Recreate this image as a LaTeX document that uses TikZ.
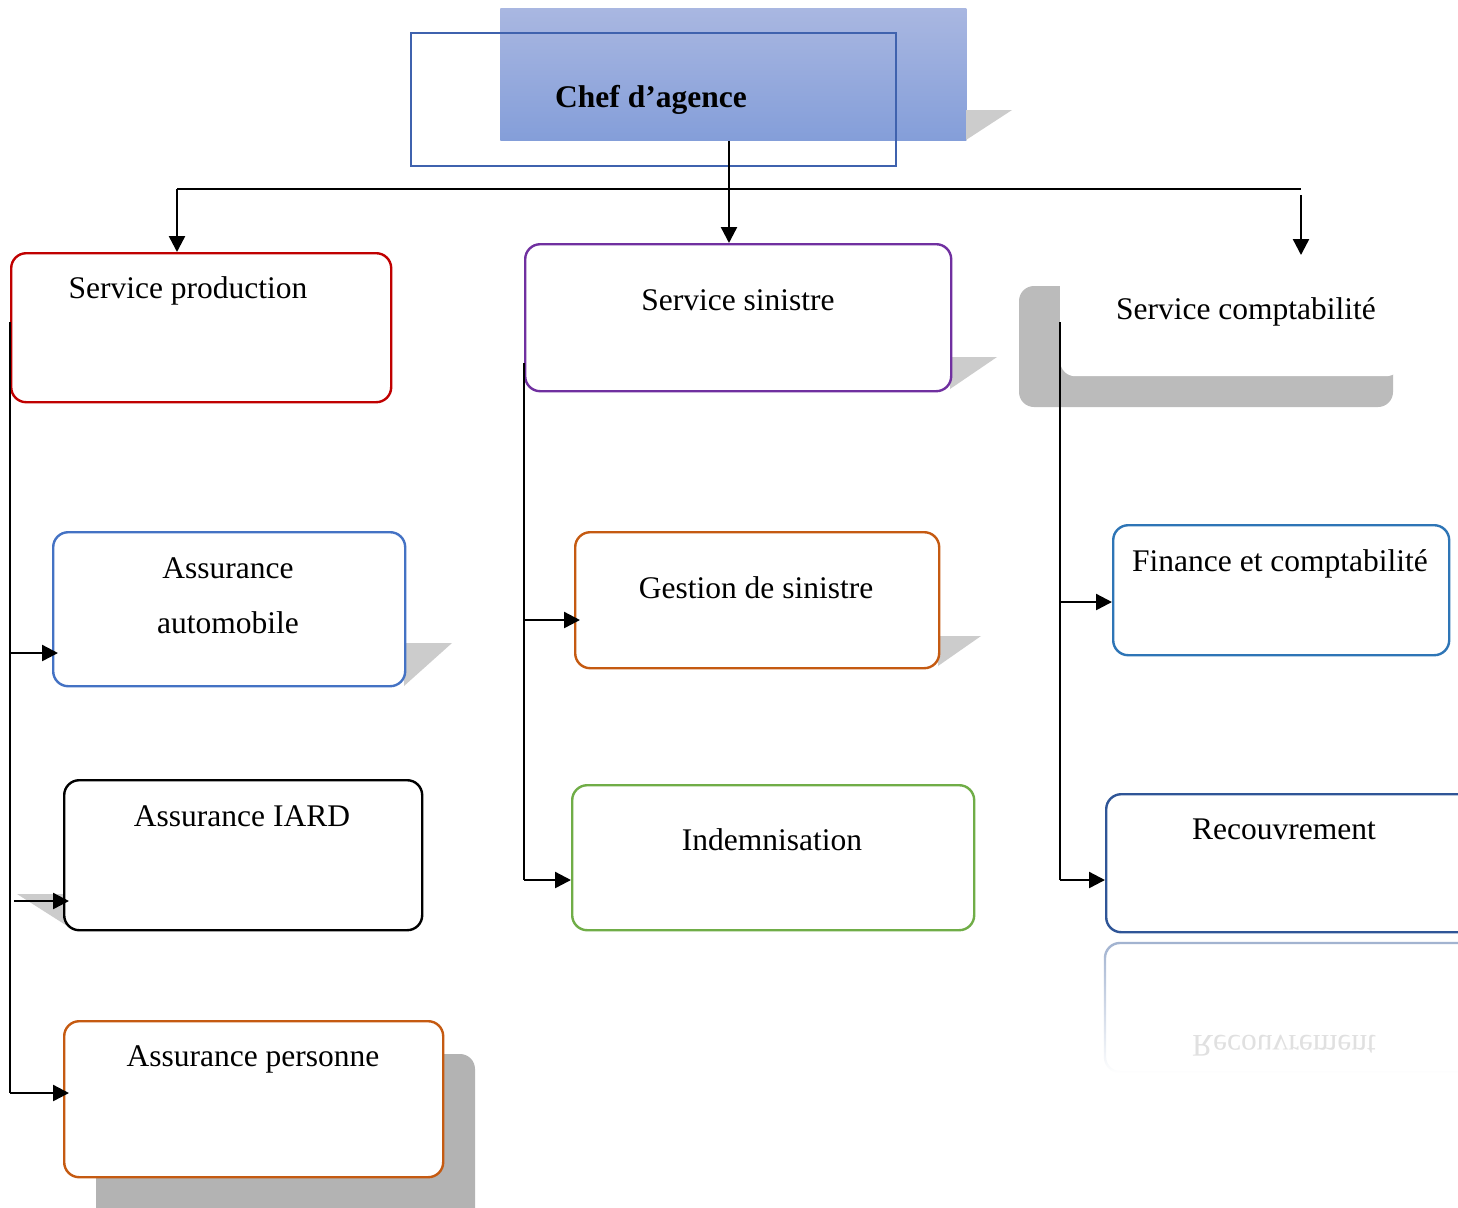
\documentclass[tikz,border=0pt]{standalone}
\usepackage{fontspec}
\setmainfont{Liberation Serif}
\usetikzlibrary{arrows.meta,fadings}
\definecolor{cRed}{HTML}{C00000}
\definecolor{cPurple}{HTML}{7030A0}
\definecolor{cBlue}{HTML}{4472C4}
\definecolor{cOrange}{HTML}{C55A11}
\definecolor{cGreen}{HTML}{70AD47}
\definecolor{cFin}{HTML}{2E75B6}
\definecolor{cRec}{HTML}{2F5597}
\definecolor{cChefLine}{HTML}{3F62AE}
\definecolor{cChefTop}{HTML}{A9B7E1}
\definecolor{cChefBot}{HTML}{849ED9}
\definecolor{cShLight}{HTML}{CCCCCC}
\definecolor{cShDark}{HTML}{B3B3B3}
\definecolor{cShMid}{HTML}{BBBBBB}
\tikzfading[name=reflfade, top color=transparent!55, bottom color=transparent!100]
\begin{document}
\begin{tikzpicture}[x=0.5pt,y=-0.5pt,
  txt/.style={font=\fontsize{15.75pt}{19pt}\selectfont, anchor=base, inner sep=0},
  box/.style={draw, rounded corners=7.5pt, line width=1.2pt, fill=white, anchor=north west, inner sep=0},
  conn/.style={line width=0.7pt},
  arr/.style={line width=1.2pt, -{Triangle[length=8pt,width=8pt]}},
  harr/.style={arr, shorten >=-3pt},
  shad/.style={fill=cShLight, draw=none}]
\useasboundingbox[fill=white] (0,0) rectangle (1458,1207);

% ---- Chef d'agence
\node[anchor=north west, inner sep=0, minimum width=233pt, minimum height=66pt,
      top color=cChefTop, bottom color=cChefBot] (chefbg) at (500,8) {};
\fill[shad] (966,110) -- (1012,110) -- (966,140) -- cycle;
\node[draw=cChefLine, line width=1.2pt, anchor=north west, inner sep=0,
      minimum width=242.5pt, minimum height=66.5pt] (chef) at (410,32) {};
\node[txt, font=\fontsize{15.75pt}{19pt}\selectfont\bfseries] (cheft) at (651,107) {Chef d’agence};

% ---- shadows
\fill[shad] (404,643) -- (452,643) -- (404,686) -- cycle;
\fill[shad] (950,357) -- (997,357) -- (950,389) -- cycle;
\fill[shad] (938,636) -- (981,636) -- (938,666) -- cycle;
\fill[shad] (17,894) -- (63,894) -- (72,929) -- cycle;
\fill[cShDark, rounded corners=7.5pt] (96,1054) rectangle (475,1225);
\fill[cShMid, rounded corners=7.5pt] (1019,286) rectangle (1393,407);

% ---- boxes
\node[box, draw=cRed, minimum width=190pt, minimum height=74.5pt] (sp) at (10,252) {};
\node[box, draw=cPurple, minimum width=213pt, minimum height=73.5pt] (ss) at (524,243) {};
\node[box, draw=none, minimum width=170.5pt, minimum height=62.5pt] (sc) at (1059,250) {};
\node[box, draw=cBlue, minimum width=176pt, minimum height=77pt] (aa) at (52,531) {};
\node[box, draw=black, minimum width=179pt, minimum height=75pt] (ai) at (63,779) {};
\node[box, draw=cOrange, minimum width=189.5pt, minimum height=78pt] (ap) at (63,1020) {};
\node[box, draw=cOrange, minimum width=182pt, minimum height=68pt] (gs) at (574,531) {};
\node[box, draw=cGreen, minimum width=201pt, minimum height=72.5pt] (ind) at (571,784) {};
\node[box, draw=cFin, minimum width=168pt, minimum height=65pt] (fc) at (1112,524) {};
\node[box, draw=cRec, minimum width=185pt, minimum height=69pt] (rec) at (1105,793) {};

% reflection of Recouvrement
\draw[cRec, line width=1.2pt, rounded corners=7.5pt, path fading=reflfade] (1105,943) rectangle (1475,1072);
\node[txt, yscale=-1, text=black!12] (recrefl) at (1284,1035) {Recouvrement};

% ---- texts
\node[txt] (spt) at (188,298) {Service production};
\node[txt] (sst) at (738,310) {Service sinistre};
\node[txt] (sct) at (1246,319) {Service comptabilité};
\node[txt] (aat1) at (228,578) {Assurance};
\node[txt] (aat2) at (228,633) {automobile};
\node[txt] (ait) at (242,826) {Assurance IARD};
\node[txt] (apt) at (253,1066) {Assurance personne};
\node[txt] (gst) at (756,598) {Gestion de sinistre};
\node[txt] (indt) at (772,850) {Indemnisation};
\node[txt] (fct) at (1280,571) {Finance et comptabilité};
\node[txt] (rect) at (1284,839) {Recouvrement};

% ---- top connectors
\coordinate (jt) at (729,189);
\coordinate (hl) at (177,189);
\coordinate (hr) at (1301,189);
\coordinate (hr2) at (1301,195);
\coordinate (scend) at (1301,255);
\draw[conn] (jt |- chefbg.south) -- (jt);
\draw[conn] (hl) -- (hr);
\draw[arr] (jt) -- (jt |- ss.north);
\draw[arr] (hl) -- (hl |- sp.north);
\draw[arr] (hr2) -- (scend);

% ---- left column
\coordinate (lt) at (10,322);
\coordinate (lb) at (10,1093);
\draw[conn] (lt) -- (lb);
\coordinate (la) at (10,653);
\coordinate (li) at (14,901);
\draw[harr] (la) -- (la -| aa.west);
\draw[harr] (li) -- (li -| ai.west);
\draw[harr] (lb) -- (lb -| ap.west);

% ---- middle column
\coordinate (mt) at (524,363);
\coordinate (mb) at (524,880);
\coordinate (mg) at (524,620);
\draw[conn] (mt) -- (mb);
\draw[harr] (mg) -- (mg -| gs.west);
\draw[arr] (mb) -- (mb -| ind.west);

% ---- right column
\coordinate (rt) at (1060,322);
\coordinate (rb) at (1060,880);
\coordinate (rf) at (1060,602);
\draw[conn] (rt) -- (rb);
\draw[arr] (rf) -- (rf -| fc.west);
\draw[arr] (rb) -- (rb -| rec.west);
\end{tikzpicture}
\end{document}
